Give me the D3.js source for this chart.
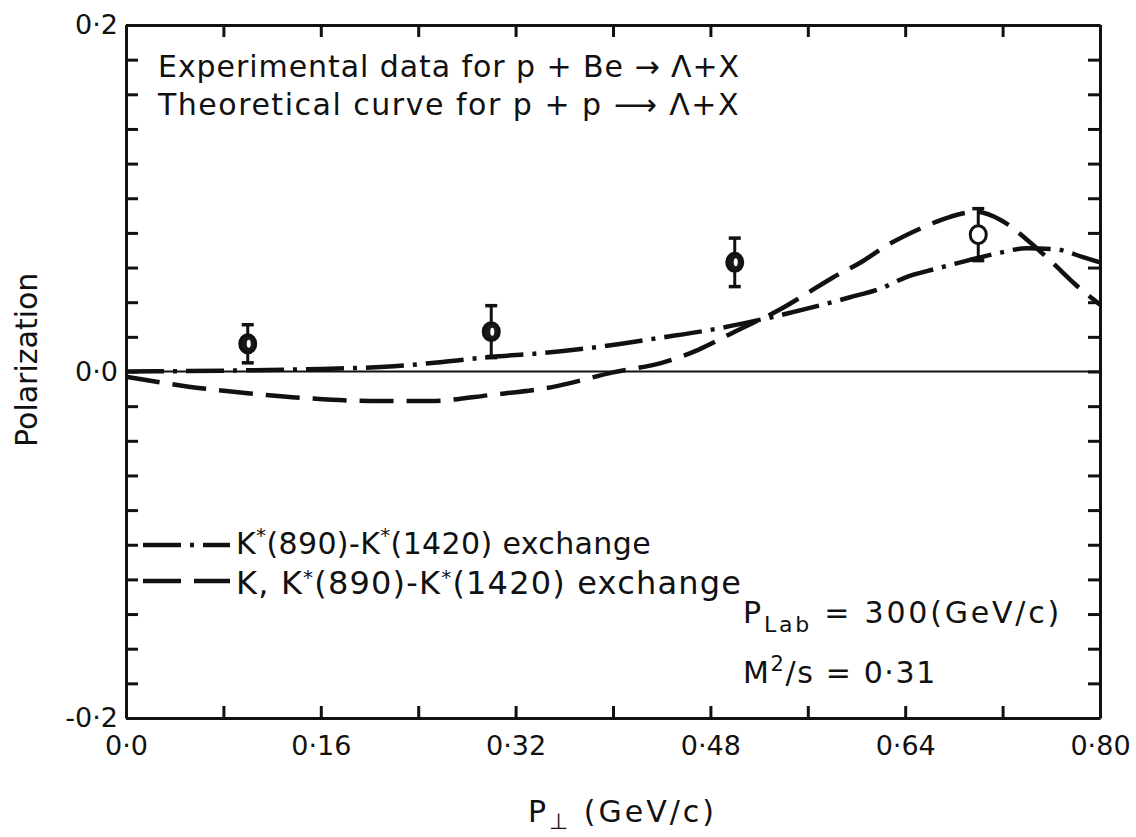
<!DOCTYPE html>
<html>
<head>
<meta charset="utf-8">
<script src="https://cdn.jsdelivr.net/npm/d3@7"></script>
<style>
  body { margin: 0; background: #fff; }
  svg { display: block; }
  text { font-family: "DejaVu Sans", sans-serif; fill: #111; }
</style>
</head>
<body>
<svg id="chart" width="1136" height="837"></svg>
<script>
// measured points, p + Be -> Lambda + X
const pointPt = [0.10, 0.30, 0.50, 0.70];
const pointPol = [0.016, 0.023, 0.063, 0.079];
const pointErr = [0.011, 0.015, 0.014, 0.015];
const pointOpen = [false, false, false, true];

// K*(890)-K*(1420) exchange (dash-dot)
const kstarPt = [0, 0.08, 0.16, 0.22, 0.26, 0.30, 0.34, 0.39, 0.44, 0.48, 0.525, 0.556, 0.594, 0.62, 0.641, 0.666, 0.691, 0.718, 0.74, 0.764, 0.786, 0.80];
const kstarPol = [0, 0.0005, 0.0015, 0.003, 0.0055, 0.0085, 0.0105, 0.0144, 0.0196, 0.024, 0.0305, 0.0357, 0.0427, 0.048, 0.0545, 0.0594, 0.064, 0.0686, 0.0712, 0.0705, 0.066, 0.063];

// K, K*(890)-K*(1420) exchange (dashed)
const kPt = [0, 0.05, 0.10, 0.15, 0.20, 0.25, 0.30, 0.35, 0.40, 0.44, 0.47, 0.50, 0.54, 0.555, 0.58, 0.603, 0.626, 0.654, 0.677, 0.698, 0.718, 0.74, 0.761, 0.78, 0.80];
const kPol = [-0.003, -0.0086, -0.0125, -0.0155, -0.017, -0.017, -0.0135, -0.009, -0.0005, 0.005, 0.0125, 0.023, 0.0369, 0.0432, 0.054, 0.0628, 0.0732, 0.083, 0.0893, 0.0922, 0.0876, 0.0761, 0.0628, 0.0501, 0.0386];

// axes
const xTicks = [0, 0.08, 0.16, 0.24, 0.32, 0.40, 0.48, 0.56, 0.64, 0.72, 0.80];
const xTickLabels = ["0·0", "", "0·16", "", "0·32", "", "0·48", "", "0·64", "", "0·80"];
const yTicks = [-0.2, -0.18, -0.16, -0.14, -0.12, -0.1, -0.08, -0.06, -0.04, -0.02, 0, 0.02, 0.04, 0.06, 0.08, 0.1, 0.12, 0.14, 0.16, 0.18, 0.2];
const yTickLabels = { "-0.2": "-0·2", "0": "0·0", "0.2": "0·2" };

const margin = { top: 25, right: 36, bottom: 119, left: 126 };
const width = 1136 - margin.left - margin.right;
const height = 837 - margin.top - margin.bottom;

const svg = d3.select("#chart");
const g = svg.append("g").attr("transform", `translate(${margin.left},${margin.top})`);

const x = d3.scaleLinear().domain([0, 0.8]).range([0, width]);
const y = d3.scaleLinear().domain([-0.2, 0.2]).range([height, 0]);

function styleAxis(sel) {
  sel.select(".domain").attr("stroke", "#111").attr("stroke-width", 3);
  sel.selectAll(".tick line").attr("stroke", "#111").attr("stroke-width", 3);
  sel.selectAll("text").style("font-family", "DejaVu Sans, sans-serif").attr("fill", "#111");
}

g.append("g")
  .attr("transform", `translate(0,${height})`)
  .call(d3.axisBottom(x).tickValues(xTicks).tickSize(-12).tickSizeOuter(0).tickPadding(18)
    .tickFormat((d, i) => xTickLabels[i]))
  .call(styleAxis)
  .selectAll("text").attr("font-size", 27);

g.append("g")
  .call(d3.axisTop(x).tickValues(xTicks).tickSize(-12).tickSizeOuter(0).tickFormat(""))
  .call(styleAxis);

g.append("g")
  .call(d3.axisLeft(y).tickValues(yTicks).tickSize(-12).tickSizeOuter(0).tickPadding(8)
    .tickFormat(d => yTickLabels[String(+d.toFixed(2))] || ""))
  .call(styleAxis)
  .selectAll("text").attr("font-size", 27);

g.append("g")
  .attr("transform", `translate(${width},0)`)
  .call(d3.axisRight(y).tickValues(yTicks).tickSize(-12).tickSizeOuter(0).tickFormat(""))
  .call(styleAxis);

// zero line
g.append("line")
  .attr("x1", x(0)).attr("x2", x(0.8))
  .attr("y1", y(0)).attr("y2", y(0))
  .attr("stroke", "#111").attr("stroke-width", 2);

// theory curves
const line = d3.line().x(d => x(d[0])).y(d => y(d[1])).curve(d3.curveMonotoneX);

g.append("path")
  .datum(kstarPt.map((p, i) => [p, kstarPol[i]]))
  .attr("d", line)
  .attr("fill", "none").attr("stroke", "#111").attr("stroke-width", 4.5)
  .attr("stroke-dasharray", "38 9 4 9");

g.append("path")
  .datum(kPt.map((p, i) => [p, kPol[i]]))
  .attr("d", line)
  .attr("fill", "none").attr("stroke", "#111").attr("stroke-width", 4.5)
  .attr("stroke-dasharray", "34 13");

// data points with error bars
const pts = g.append("g").selectAll("g")
  .data(pointPt.map((p, i) => ({ p, v: pointPol[i], e: pointErr[i], open: pointOpen[i] })))
  .join("g");

pts.append("line")
  .attr("x1", d => x(d.p)).attr("x2", d => x(d.p))
  .attr("y1", d => y(d.v + d.e)).attr("y2", d => y(d.v - d.e))
  .attr("stroke", "#111").attr("stroke-width", 3);

pts.selectAll(".cap")
  .data(d => [{ p: d.p, v: d.v + d.e }, { p: d.p, v: d.v - d.e }])
  .join("line")
  .attr("x1", d => x(d.p) - 6).attr("x2", d => x(d.p) + 6)
  .attr("y1", d => y(d.v)).attr("y2", d => y(d.v))
  .attr("stroke", "#111").attr("stroke-width", 3.5);

pts.append("ellipse")
  .attr("cx", d => x(d.p)).attr("cy", d => y(d.v))
  .attr("rx", 8).attr("ry", 9)
  .attr("fill", d => d.open ? "#fff" : "#1a1a1a")
  .attr("stroke", "#111").attr("stroke-width", 3);

pts.filter(d => !d.open).append("ellipse")
  .attr("cx", d => x(d.p) + 1).attr("cy", d => y(d.v))
  .attr("rx", 2).attr("ry", 4)
  .attr("fill", "#fff");

// stretch a text to the width it has in the original lettering
function fitWidth(t, target) {
  const node = t.node();
  const n = node.getNumberOfChars();
  const len = node.getComputedTextLength();
  t.style("letter-spacing", ((target - len) / n) + "px");
}

// annotations
const ann = svg.append("g").attr("font-size", 30);

ann.append("text").attr("x", 158).attr("y", 77)
  .text("Experimental data for p + Be → Λ+X")
  .call(fitWidth, 582);
ann.append("text").attr("x", 158).attr("y", 115)
  .text("Theoretical curve for p + p ⟶ Λ+X")
  .call(fitWidth, 582);

// legend
const legendY = [545, 581];
ann.append("line")
  .attr("x1", 143).attr("x2", 230).attr("y1", legendY[0]).attr("y2", legendY[0])
  .attr("stroke", "#111").attr("stroke-width", 4.5).attr("stroke-dasharray", "38 9 4 9");
ann.append("line")
  .attr("x1", 143).attr("x2", 230).attr("y1", legendY[1]).attr("y2", legendY[1])
  .attr("stroke", "#111").attr("stroke-width", 4.5).attr("stroke-dasharray", "38 13");

function kStar(t, parts, rise) {
  parts.forEach(pt => {
    if (pt.sup) t.append("tspan").attr("dy", -rise).attr("font-size", 20).text(pt.sup);
    else t.append("tspan").attr("dy", pt.back ? rise : 0).text(pt.txt);
  });
}

const l1 = ann.append("text").attr("x", 236).attr("y", legendY[0] + 9);
kStar(l1, [{ txt: "K" }, { sup: "*" }, { txt: "(890)-K", back: true }, { sup: "*" }, { txt: "(1420) exchange", back: true }], 12);
l1.call(fitWidth, 415);

const l2 = ann.append("text").attr("x", 236).attr("y", legendY[1] + 13).attr("font-size", 32);
kStar(l2, [{ txt: "K, K" }, { sup: "*" }, { txt: "(890)-K", back: true }, { sup: "*" }, { txt: "(1420) exchange", back: true }], 10);
l2.call(fitWidth, 506);

// kinematics
const k1 = ann.append("text").attr("x", 743).attr("y", 623);
k1.append("tspan").text("P");
k1.append("tspan").attr("dy", 9).attr("font-size", 22).text("Lab");
k1.append("tspan").attr("dy", -9).text(" = 300(GeV/c)");
k1.call(fitWidth, 319);

const k2 = ann.append("text").attr("x", 743).attr("y", 683);
k2.append("tspan").text("M");
k2.append("tspan").attr("dy", -12).attr("font-size", 21).text("2");
k2.append("tspan").attr("dy", 12).text("/s = 0·31");
k2.call(fitWidth, 194);

// axis titles
const xt = ann.append("text").attr("x", 528).attr("y", 822);
xt.append("tspan").text("P");
xt.append("tspan").attr("dy", 7).attr("font-size", 22).text("⊥");
xt.append("tspan").attr("dy", -7).text(" (GeV/c)");
xt.call(fitWidth, 189);

ann.append("text")
  .attr("transform", "translate(37,447) rotate(-90)")
  .text("Polarization");
</script>
</body>
</html>
